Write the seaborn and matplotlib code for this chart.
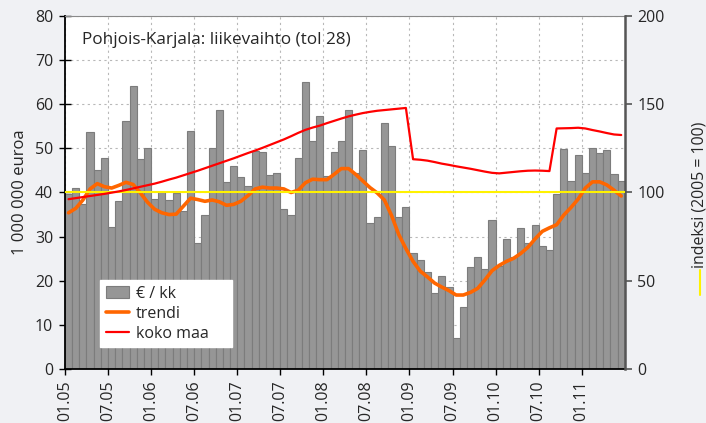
import numpy as np
import pandas as pd
import matplotlib
matplotlib.use("Agg")
import matplotlib.pyplot as plt
from matplotlib.lines import Line2D
import seaborn as sns

# ---------------- data ----------------
# monthly turnover, million euro, Jan 2005 ... Jun 2011
sales = [39.6, 41.1, 37.5, 53.6, 45.1, 47.8, 32.3, 38.1, 56.2, 64.1, 47.6, 50.1,
         38.6, 40.2, 38.2, 39.9, 35.9, 53.8, 28.6, 35.0, 50.0, 58.6, 42.4, 45.9,
         43.6, 41.5, 49.3, 49.2, 44.0, 44.3, 36.2, 34.9, 47.9, 65.1, 51.7, 57.2,
         43.8, 49.1, 51.7, 58.6, 44.4, 49.5, 33.2, 34.4, 55.7, 50.6, 34.4, 36.6,
         26.3, 24.8, 22.0, 17.3, 21.0, 18.6, 7.15, 14.1, 23.2, 25.3, 22.6, 33.8,
         23.3, 29.5, 25.4, 31.9, 28.6, 32.6, 28.0, 27.0, 39.7, 49.8, 42.7, 48.5,
         44.4, 50.0, 48.9, 49.6, 44.2, 42.5]

trend = [35.4, 36.4, 38.3, 40.8, 42.0, 41.3, 41.0, 41.6, 42.3, 41.8, 39.9, 37.8,
         36.2, 35.4, 35.0, 35.1, 36.9, 38.7, 38.4, 38.0, 38.3, 37.9, 37.1, 37.3,
         38.0, 39.3, 40.8, 41.2, 41.0, 41.0, 40.8, 40.0, 40.5, 42.2, 43.0, 42.9,
         42.9, 44.1, 45.4, 45.4, 44.1, 42.6, 41.1, 39.9, 38.3, 34.8, 30.5, 27.3,
         24.4, 22.2, 20.9, 19.5, 18.6, 17.8, 16.8, 16.8, 17.4, 18.3, 20.2, 22.3,
         23.5, 24.4, 25.1, 26.2, 27.6, 29.5, 31.2, 32.0, 32.7, 34.9, 36.6, 38.5,
         41.0, 42.4, 42.4, 41.7, 40.5, 39.2]

# whole country index (2005 = 100), right axis
koko_maa = [96.2, 96.8, 97.4, 98.0, 98.6, 99.2, 99.9, 100.6, 101.4, 102.3, 103.2, 104.1,
            105.0, 106.1, 107.3, 108.4, 109.7, 111.0, 112.3, 113.7, 115.1, 116.5, 117.9, 119.3,
            120.8, 122.3, 123.7, 125.2, 126.8, 128.4, 130.0, 131.8, 133.7, 135.4, 136.7, 137.8,
            139.2, 140.5, 141.8, 143.0, 144.0, 144.9, 145.6, 146.2, 146.6, 147.0, 147.4, 147.8,
            118.8, 118.5, 118.0, 117.2, 116.3, 115.6, 114.8, 114.1, 113.4, 112.6, 111.8, 111.1,
            110.8, 111.2, 111.6, 112.0, 112.3, 112.4, 112.3, 112.1, 136.2, 136.3, 136.4, 136.6,
            136.2, 135.3, 134.5, 133.6, 132.8, 132.5]

index_base = 100

tick_labels = ["01.05", "07.05", "01.06", "07.06", "01.07", "07.07", "01.08",
               "07.08", "01.09", "07.09", "01.10", "07.10", "01.11"]

legend_order = ["€ / kk", "trendi", "koko maa"]

# ---------------- styling ----------------
sns.set_style("ticks")
plt.rcParams["font.family"] = ["Open Sans", "DejaVu Sans"]

BG = "#f0f1f4"
BAR = "#969696"
BAR_EDGE = "#7c7c7c"
ORANGE = "#ff6600"
RED = "#ff0000"
YELLOW = "#fff200"
FS = 11.5

n = len(sales)
month = np.arange(n)
df = pd.DataFrame({"month": month, "sales": sales, "trend": trend, "koko": koko_maa})

fig = plt.figure(figsize=(7.06, 4.23), dpi=100, facecolor=BG)
ax = fig.add_axes([0.092, 0.127, 0.793, 0.836])
ax.set_facecolor("white")

sns.barplot(data=df, x="month", y="sales", native_scale=True, width=1.0,
            color=BAR, saturation=1, edgecolor=BAR_EDGE, linewidth=0.8,
            ax=ax, label="€ / kk", zorder=2)
sns.lineplot(data=df, x="month", y="trend", color=ORANGE, lw=2.6, ax=ax,
             label="trendi", zorder=4)

ax2 = ax.twinx()
sns.lineplot(data=df, x="month", y="koko", color=RED, lw=1.6, ax=ax2,
             label="koko maa", zorder=5)
ax2.axhline(index_base, color=YELLOW, lw=1.5, zorder=3)

ax.set_xlim(-0.5, n - 0.5)
ax.set_ylim(0, 80)
ax2.set_ylim(0, 200)

ax.set_xticks(np.arange(0, n, 6) - 0.5)
ax.set_xticklabels(tick_labels, rotation=90, fontsize=FS)
ax.set_yticks(np.arange(0, 81, 10))
ax.tick_params(axis="y", labelsize=FS, direction="inout", length=9, width=1.0,
               color="black", pad=4)
ax.tick_params(axis="x", direction="inout", length=8, width=1.0, color="black", pad=4)
ax2.set_yticks([0, 50, 100, 150, 200])
ax2.tick_params(axis="y", labelsize=FS, direction="out", length=5, width=1.2,
                color="#555555", pad=4)

ax.grid(True, ls=(0, (2, 3)), color="#b8b8b8", lw=0.8)
ax.set_axisbelow(True)
ax2.grid(False)

ax.set_xlabel("")
ax.set_ylabel("1 000 000 euroa", fontsize=12)
ax.yaxis.set_label_coords(-0.066, 0.5)
ax2.set_ylabel("")

for s in ["left", "bottom"]:
    ax.spines[s].set_color("black")
    ax.spines[s].set_linewidth(1.3)
ax.spines["top"].set_color("#8a8a8a")
ax.spines["top"].set_linewidth(0.8)
ax.spines["right"].set_visible(False)
for s in ["left", "bottom", "top"]:
    ax2.spines[s].set_visible(False)
ax2.spines["right"].set_color("#555555")
ax2.spines["right"].set_linewidth(1.8)

# legend (bars + trend from ax, koko maa from ax2)
if ax.get_legend() is not None:
    ax.get_legend().remove()
if ax2.get_legend() is not None:
    ax2.get_legend().remove()
h1, l1 = ax.get_legend_handles_labels()
h2, l2 = ax2.get_legend_handles_labels()
hmap = dict(zip(l1 + l2, h1 + h2))
leg = ax2.legend([hmap[k] for k in legend_order], legend_order, loc="lower left",
                 bbox_to_anchor=(0.0625, 0.0625, 0.236, 0.18), mode="expand",
                 frameon=True, fancybox=False, framealpha=1, facecolor="white",
                 edgecolor="white", fontsize=FS, handlelength=1.5,
                 handletextpad=0.4, borderpad=0.35, labelspacing=0.25,
                 borderaxespad=0)
leg.set_zorder(10)

ax.text(0.030, 0.931, "Pohjois-Karjala: liikevaihto (tol 28)", transform=ax.transAxes,
        fontsize=12.3, va="center", ha="left", zorder=6)

# right-hand label with yellow marker
fig.text(0.9905, 0.539, "indeksi (2005 = 100)", rotation=90, ha="center", va="center",
         fontsize=11.4)
fig.add_artist(Line2D([0.9915, 0.9915], [0.303, 0.362], transform=fig.transFigure,
                      color=YELLOW, lw=1.5))

fig.savefig("out.png", dpi=100, facecolor=BG)
